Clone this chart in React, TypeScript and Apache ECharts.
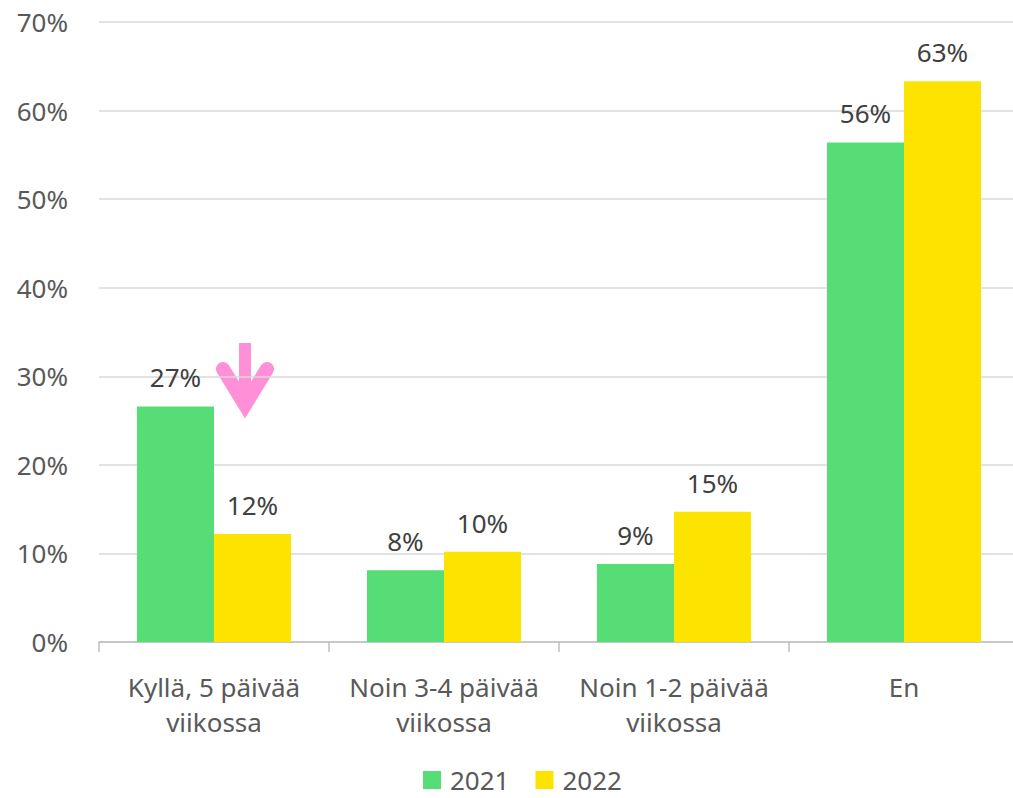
import React, { useEffect, useRef } from "react";
import * as echarts from "echarts";

const categories = ["Kyllä, 5 päivää\nviikossa", "Noin 3-4 päivää\nviikossa", "Noin 1-2 päivää\nviikossa", "En"];
const series2021 = [26.6, 8.1, 8.8, 56.4];
const series2022 = [12.2, 10.2, 14.7, 63.3];
const seriesNames = ["2021", "2022"];
const yTicks = [0, 10, 20, 30, 40, 50, 60, 70];

const FONT = "'Noto Sans', 'Open Sans', sans-serif";

export default function App() {
  const ref = useRef<HTMLDivElement>(null);
  useEffect(() => {
    const chart = echarts.init(ref.current!, null, { renderer: "svg" });
    const labelStyle = {
      show: true,
      position: "top" as const,
      distance: 16,
      color: "#404040",
      fontSize: 26,
      fontFamily: FONT,
      formatter: (p: any) => Math.round(p.value) + "%",
    };
    chart.setOption({
      animation: false,
      backgroundColor: "#ffffff",
      textStyle: { fontFamily: FONT },
      grid: { left: 99, top: 22, width: 920, height: 620, containLabel: false },
      legend: {
        bottom: 0,
        left: 418,
        itemWidth: 18,
        itemHeight: 18,
        itemGap: 26,
        icon: "rect",
        textStyle: { fontSize: 26, color: "#595959", fontFamily: FONT, padding: [0, 0, 0, 4] },
        data: seriesNames,
      },
      xAxis: {
        type: "category",
        data: categories,
        axisLine: { lineStyle: { color: "#BFBFBF", width: 1.5 } },
        axisTick: { show: true, length: 10, lineStyle: { color: "#BFBFBF", width: 1.5 } },
        axisLabel: { fontSize: 26, color: "#595959", fontFamily: FONT, margin: 27, lineHeight: 35, interval: 0 },
      },
      yAxis: {
        type: "value",
        min: yTicks[0],
        max: yTicks[yTicks.length - 1],
        interval: 10,
        axisLine: { show: false },
        axisTick: { show: false },
        splitLine: { lineStyle: { color: "#D9D9D9", width: 1.5 } },
        axisLabel: { fontSize: 26, color: "#595959", fontFamily: FONT, margin: 31, formatter: "{value}%" },
      },
      series: [
        {
          name: seriesNames[0],
          type: "bar",
          data: series2021,
          itemStyle: { color: "#57DD76" },
          barGap: "0%",
          barCategoryGap: "33%",
          label: labelStyle,
        },
        {
          name: seriesNames[1],
          type: "bar",
          data: series2022,
          itemStyle: { color: "#FCE400" },
          barGap: "0%",
          barCategoryGap: "33%",
          label: labelStyle,
        },
      ],
      graphic: [
        {
          type: "line",
          shape: { x1: 245, y1: 343, x2: 245, y2: 405 },
          style: { stroke: "#FF8FD6", lineWidth: 12, lineCap: "butt" },
        },
        {
          type: "polyline",
          shape: { points: [[223, 369], [245, 405], [267, 369]] },
          style: { stroke: "#FF8FD6", lineWidth: 14, lineCap: "round", lineJoin: "miter", fill: "none" },
        },
      ],
    });
    return () => chart.dispose();
  }, []);
  return (
    <div style={{ position: "fixed", left: 0, top: 0, width: 1013, height: 798, overflow: "hidden", background: "#fff" }}>
      <div ref={ref} style={{ width: 1030, height: 798 }} />
    </div>
  );
}
